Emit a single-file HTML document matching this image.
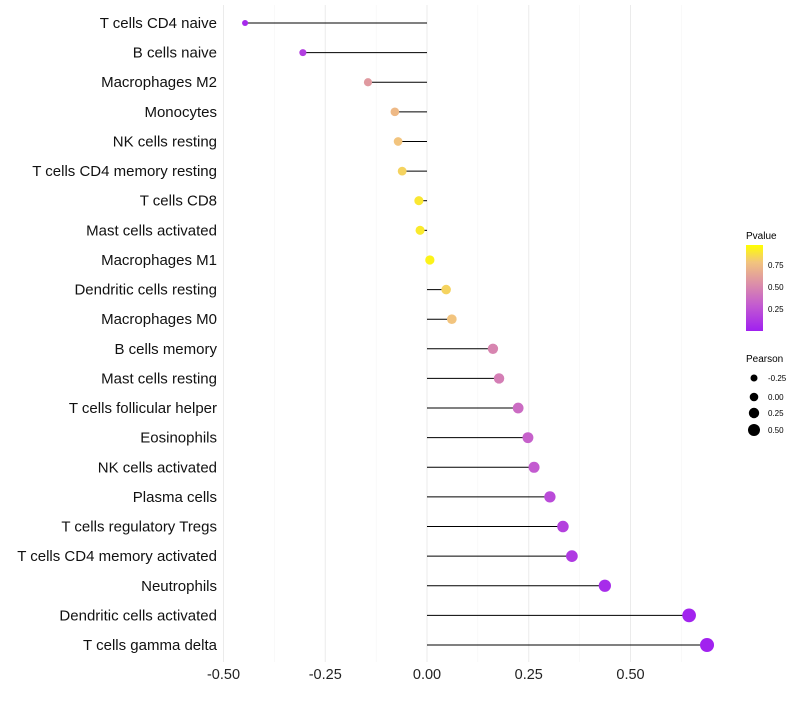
<!DOCTYPE html>
<html><head><meta charset="utf-8">
<style>body{margin:0;background:#fff;font-family:"Liberation Sans",sans-serif}</style></head>
<body>
<svg id="chart" width="800" height="700" xmlns="http://www.w3.org/2000/svg">
<defs><linearGradient id="pg" x1="0" y1="1" x2="0" y2="0">
<stop offset="0" stop-color="#a020f0"/><stop offset="0.3" stop-color="#c35bd0"/><stop offset="0.55" stop-color="#dc8fa8"/><stop offset="0.8" stop-color="#f2c47e"/><stop offset="1" stop-color="#ffff00"/></linearGradient></defs>
<g id="grid"></g><g id="marks"></g><g id="labels"></g>
<g>
<text x="746" y="239" font-size="10">Pvalue</text>
<rect x="746" y="245" width="17" height="86" fill="url(#pg)"/>
<text x="768" y="268" font-size="8">0.75</text><text x="768" y="290" font-size="8">0.50</text><text x="768" y="312" font-size="8">0.25</text>
</g>
<g>
<text x="746" y="362" font-size="10">Pearson</text>
<circle cx="754" cy="378" r="3.5"/><text x="768" y="381" font-size="8">-0.25</text>
<circle cx="754" cy="397" r="4.3"/><text x="768" y="400" font-size="8">0.00</text>
<circle cx="754" cy="413" r="5.2"/><text x="768" y="416" font-size="8">0.25</text>
<circle cx="754" cy="430" r="6"/><text x="768" y="433" font-size="8">0.50</text>
</g>
</svg>
<script>
const cells=["T cells CD4 naive","B cells naive","Macrophages M2","Monocytes","NK cells resting","T cells CD4 memory resting","T cells CD8","Mast cells activated","Macrophages M1","Dendritic cells resting","Macrophages M0","B cells memory","Mast cells resting","T cells follicular helper","Eosinophils","NK cells activated","Plasma cells","T cells regulatory  Tregs","T cells CD4 memory activated","Neutrophils","Dendritic cells activated","T cells gamma delta"];
const pearson=[-0.447,-0.305,-0.145,-0.079,-0.071,-0.061,-0.020,-0.017,0.007,0.047,0.061,0.162,0.177,0.224,0.248,0.263,0.302,0.334,0.356,0.437,0.644,0.688];
const pvalue=[0.05,0.15,0.6,0.75,0.8,0.85,0.92,0.93,0.96,0.85,0.8,0.5,0.47,0.38,0.33,0.3,0.22,0.17,0.13,0.06,0.02,0.01];
const ticks=[-0.5,-0.25,0,0.25,0.5];
const tickLabels=["-0.50","-0.25","0.00","0.25","0.50"];
const NS="http://www.w3.org/2000/svg";
const xs=v=>427+v*407;
const ys=i=>23+i*(622/21);
const stops=[[0,[160,32,240]],[0.3,[195,91,208]],[0.55,[220,143,168]],[0.8,[242,196,126]],[1,[255,255,0]]];
function col(p){for(let k=1;k<stops.length;k++){if(p<=stops[k][0]){const a=stops[k-1],b=stops[k],t=(p-a[0])/(b[0]-a[0]);return`rgb(${a[1].map((c,j)=>Math.round(c+(b[1][j]-c)*t)).join(",")})`;}}return"rgb(255,255,0)";}
const rad=v=>Math.max(1.5,4.6+3.5*v);
function mk(t,a,p){const e=document.createElementNS(NS,t);for(const k in a)e.setAttribute(k,a[k]);p.appendChild(e);return e;}
const g=document.getElementById("grid"),m=document.getElementById("marks"),l=document.getElementById("labels");
for(let v=-0.5;v<=0.6251;v+=0.125){const e=mk("line",{x1:xs(v),x2:xs(v),y1:5,y2:662,stroke:Math.abs((v*4)%1)<1e-6?"#ebebeb":"#f5f5f5","stroke-width":Math.abs((v*4)%1)<1e-6?1:0.6},g);

}
ticks.forEach((t,i)=>{const e=mk("text",{x:xs(t),y:679,"font-size":14.5,"text-anchor":"middle",fill:"#222"},l);e.textContent=tickLabels[i];

});
cells.forEach((c,i)=>{const y=ys(i);
const ln=mk("line",{x1:xs(0),x2:xs(pearson[i]),y1:y,y2:y,stroke:"#000","stroke-width":1},m);


const ci=mk("circle",{cx:xs(pearson[i]),cy:y,r:rad(pearson[i]),fill:col(pvalue[i])},m);


const tx=mk("text",{x:217,y:y+5,"font-size":15,"text-anchor":"end",fill:"#111"},l);tx.textContent=c;

});
</script>
</body></html>
